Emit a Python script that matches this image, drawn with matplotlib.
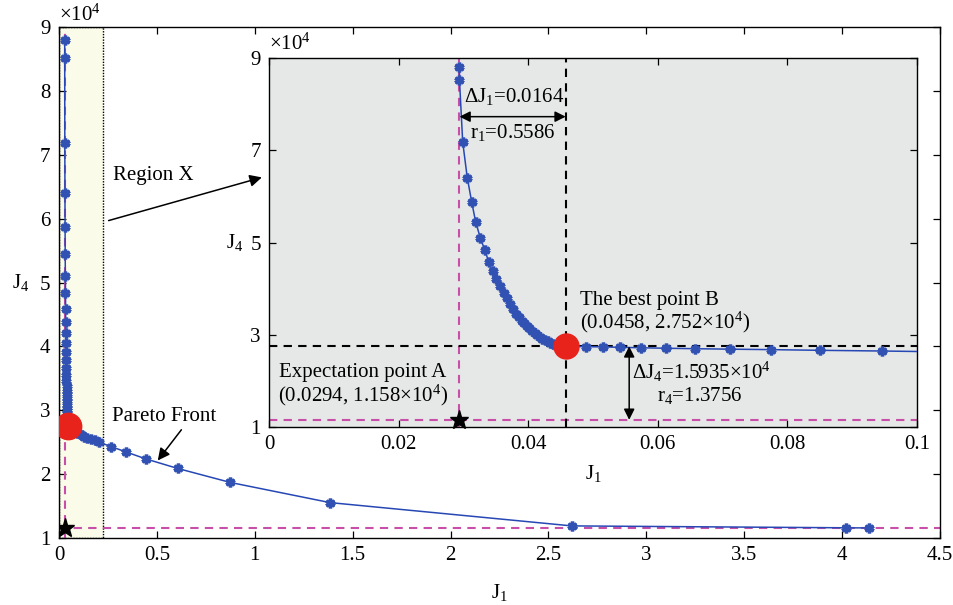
import matplotlib
matplotlib.use("Agg")
import matplotlib.pyplot as plt
from matplotlib.patches import Rectangle

plt.rcParams["font.family"] = ["Liberation Serif", "DejaVu Serif"]
plt.rcParams["mathtext.fontset"] = "custom"
plt.rcParams["mathtext.rm"] = "Liberation Serif"
plt.rcParams["mathtext.default"] = "regular"

# Pareto front (J4 in units of 1e4)
j1 = [0.0294, 0.0294, 0.0299, 0.0306, 0.0313, 0.0319, 0.0326, 0.0333, 0.0339,
      0.0345, 0.0351, 0.0356, 0.0362, 0.0367, 0.0372, 0.0377, 0.0382, 0.0386,
      0.0390, 0.0394, 0.0398, 0.0402, 0.0406, 0.0410, 0.0414, 0.0418, 0.0422,
      0.0426, 0.0430, 0.0434, 0.0438, 0.0442, 0.0446, 0.0450, 0.0454, 0.0458,
      0.0490, 0.0515, 0.0542, 0.0575, 0.0613, 0.0658, 0.0711, 0.0775, 0.0851,
      0.0946, 0.105, 0.117, 0.130, 0.145, 0.162, 0.182, 0.205, 0.268, 0.341,
      0.443, 0.606, 0.876, 1.384, 2.619, 4.02, 4.14]
j4 = [8.80, 8.52, 7.18, 6.41, 5.87, 5.45, 5.11, 4.84, 4.59,
      4.38, 4.21, 4.06, 3.91, 3.79, 3.67, 3.56, 3.46, 3.38,
      3.31, 3.25, 3.19, 3.14, 3.09, 3.04, 3.00, 2.96, 2.92,
      2.89, 2.86, 2.83, 2.81, 2.79, 2.775, 2.765, 2.757, 2.752,
      2.745, 2.74, 2.73, 2.72, 2.71, 2.70, 2.69, 2.68, 2.665,
      2.65, 2.63, 2.61, 2.59, 2.57, 2.55, 2.53, 2.50, 2.43, 2.35,
      2.24, 2.09, 1.87, 1.555, 1.19, 1.16, 1.158]

point_a = (0.0294, 1.158)   # expectation point
point_b = (0.0458, 2.752)   # best point
region_x = 0.226

BLUE = "#2748b4"
MAG = "#c84fa8"
RED = "#e8231c"
ASTER = (6, 2, 0)
FS = 15


def style(ax):
    ax.tick_params(direction="in", top=True, right=True, labelsize=FS,
                   length=5, width=0.9, pad=6)
    for s in ax.spines.values():
        s.set_linewidth(1.0)


fig = plt.figure(figsize=(9.54, 6.05), dpi=100)
ax = fig.add_axes([0.0618, 0.1107, 0.9235, 0.8443])
ax.set_xlim(0, 4.5)
ax.set_ylim(1, 9)
ax.set_xticks([0, 0.5, 1, 1.5, 2, 2.5, 3, 3.5, 4, 4.5])
ax.set_xticklabels(["0", "0.5", "1", "1.5", "2", "2.5", "3", "3.5", "4", "4.5"])
ax.set_yticks(range(1, 10))
style(ax)

ax.add_patch(Rectangle((0, 1), region_x, 8, facecolor="#fbfbe9",
                       edgecolor="black", ls=(0, (1, 1)), lw=1.0, zorder=1))
ax.axvline(point_a[0], color=MAG, ls=(0, (4, 3)), lw=1.5, zorder=2)
ax.axhline(point_a[1], color=MAG, ls=(0, (4, 3)), lw=1.5, zorder=2)
ax.plot(j1, j4, color=BLUE, lw=1.1, marker=ASTER, ms=7, mew=2.5,
        mec="#3152b3", zorder=3)
ax.plot(*point_b, "o", color=RED, ms=19, zorder=4)
ax.plot(*point_a, "*", color="black", ms=14, zorder=5)

ax.text(0, 1.002, r"$\times$10$^4$", transform=ax.transAxes, fontsize=FS,
        ha="left", va="bottom")
ax.set_xlabel(r"J$_1$", fontsize=FS, labelpad=12)
ax.set_ylabel(r"J$_4$", fontsize=FS, rotation=0, labelpad=14, va="center")

ax.annotate("", xy=(1.05, 6.66), xytext=(0.24, 5.96),
            arrowprops=dict(arrowstyle="-|>", color="black", lw=1.1,
                            mutation_scale=18))
ax.text(0.276, 6.67, "Region X", fontsize=FS, ha="left", va="center")
ax.annotate("", xy=(0.496, 2.18), xytext=(0.634, 2.73),
            arrowprops=dict(arrowstyle="-|>", color="black", lw=1.1,
                            mutation_scale=18))
ax.text(0.27, 2.91, "Pareto Front", fontsize=FS, ha="left", va="center")

# inset: zoom of Region X
ins = fig.add_axes([0.282, 0.294, 0.679, 0.610])
ins.set_facecolor("#e6e7e7")
ins.set_xlim(0, 0.1)
ins.set_ylim(1, 9)
ins.set_xticks([0, 0.02, 0.04, 0.06, 0.08, 0.1])
ins.set_xticklabels(["0", "0.02", "0.04", "0.06", "0.08", "0.1"])
ins.set_yticks([1, 3, 5, 7, 9])
style(ins)
ins.axvline(point_a[0], color=MAG, ls=(0, (4, 3)), lw=1.5, zorder=2)
ins.axhline(point_a[1], color=MAG, ls=(0, (4, 3)), lw=1.5, zorder=2)
ins.axvline(point_b[0], color="black", ls=(0, (4, 3)), lw=1.5, zorder=2)
ins.axhline(point_b[1], color="black", ls=(0, (4, 3)), lw=1.5, zorder=2)
ins.plot(j1, j4, color=BLUE, lw=1.1, marker=ASTER, ms=7, mew=2.5,
         mec="#3152b3", zorder=3)
ins.plot(*point_b, "o", color=RED, ms=18, zorder=4)
ins.plot(*point_a, "*", color="black", ms=14, zorder=5, clip_on=False)

ins.text(0, 1.01, r"$\times$10$^4$", transform=ins.transAxes, fontsize=FS,
         ha="left", va="bottom")
ins.set_xlabel(r"J$_1$", fontsize=FS, labelpad=6)
ins.set_ylabel(r"J$_4$", fontsize=FS, rotation=0, labelpad=11, va="center")

ins.annotate("", xy=(point_b[0], 7.73), xytext=(point_a[0], 7.73),
             arrowprops=dict(arrowstyle="<|-|>", color="black", lw=1.1,
                             mutation_scale=16, shrinkA=0, shrinkB=0))
ins.text(0.0378, 8.16, r"ΔJ$_1$=0.0164", fontsize=FS, ha="center", va="center")
ins.text(0.0376, 7.38, r"r$_1$=0.5586", fontsize=FS, ha="center", va="center")

ins.annotate("", xy=(0.0556, point_a[1]), xytext=(0.0556, point_b[1]),
             arrowprops=dict(arrowstyle="<|-|>", color="black", lw=1.1,
                             mutation_scale=16, shrinkA=0, shrinkB=0))
ins.text(0.0668, 2.20, r"ΔJ$_4$=1.5935$\times$10$^4$", fontsize=FS,
         ha="center", va="center")
ins.text(0.0665, 1.68, r"r$_4$=1.3756", fontsize=FS, ha="center", va="center")

ins.text(0.0588, 3.75, "The best point B", fontsize=FS, ha="center", va="center")
ins.text(0.0611, 3.26, r"(0.0458, 2.752$\times$10$^4$)", fontsize=FS,
         ha="center", va="center")
ins.text(0.0144, 2.19, "Expectation point A", fontsize=FS, ha="center",
         va="center")
ins.text(0.0145, 1.69, r"(0.0294, 1.158$\times$10$^4$)", fontsize=FS,
         ha="center", va="center")

fig.savefig("out.png", dpi=100)
